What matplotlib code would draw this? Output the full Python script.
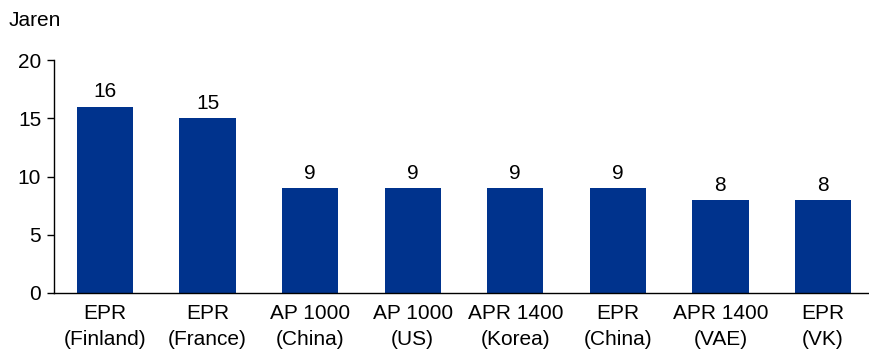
import matplotlib.pyplot as plt
import numpy as np

plt.rcParams['font.family'] = ['Liberation Sans', 'DejaVu Sans']

labels = ['EPR\n(Finland)', 'EPR\n(France)', 'AP 1000\n(China)', 'AP 1000\n(US)',
          'APR 1400\n(Korea)', 'EPR\n(China)', 'APR 1400\n(VAE)', 'EPR\n(VK)']
years = [16, 15, 9, 9, 9, 9, 8, 8]

fig = plt.figure(figsize=(8.7, 3.5), dpi=100)
ax = fig.add_axes([53.7 / 870, 57 / 350, 820.6 / 870, 233 / 350])

x = np.arange(len(labels))
ax.bar(x, years, width=0.55, color='#00338d')
for xi, v in zip(x, years):
    ax.text(xi, v + 0.45, str(v), ha='center', va='bottom', fontsize=15)

ax.set_xlim(-0.5, len(labels) - 0.5)
ax.set_ylim(0, 20)
ax.set_yticks([0, 5, 10, 15, 20])
ax.set_xticks(x)
ax.set_xticklabels(labels, fontsize=15, linespacing=1.45)
ax.tick_params(axis='y', labelsize=15, direction='out', length=5, width=1, pad=4)
ax.tick_params(axis='x', length=0, pad=8)
ax.spines['top'].set_visible(False)
ax.spines['right'].set_visible(False)
ax.spines['left'].set_linewidth(1)
ax.spines['bottom'].set_linewidth(1)
fig.text(9 / 870, 1 - 20 / 350, 'Jaren', fontsize=15, va='center', ha='left')

fig.savefig('out.png', dpi=100)
